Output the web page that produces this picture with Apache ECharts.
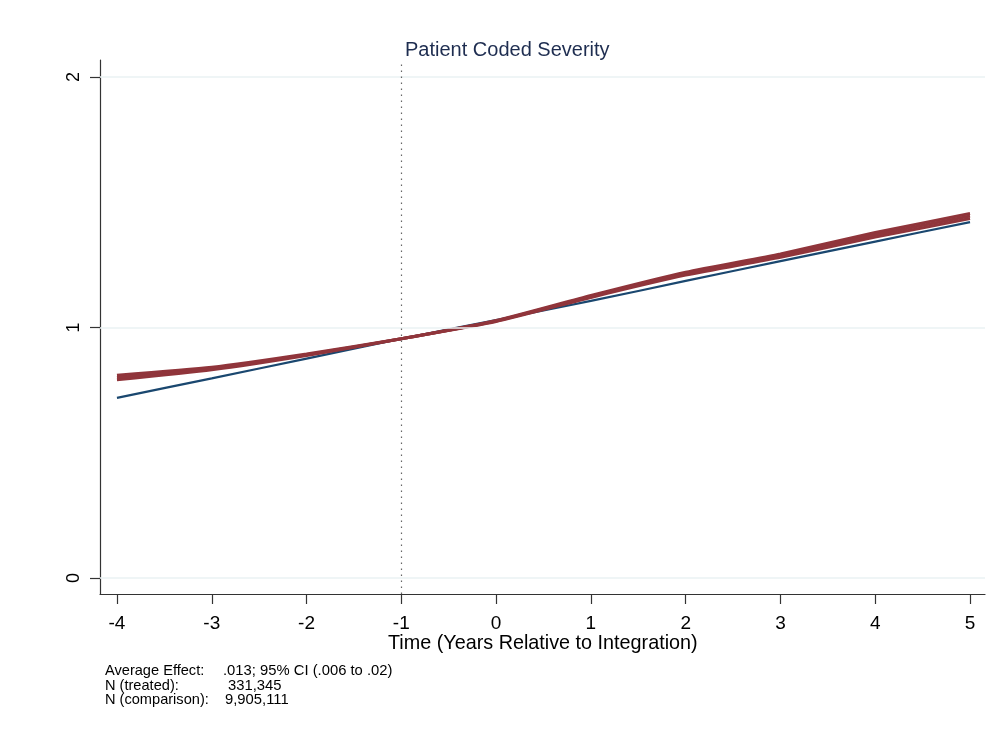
<!DOCTYPE html>
<html>
<head>
<meta charset="utf-8">
<script src="https://cdn.jsdelivr.net/npm/echarts@6/dist/echarts.min.js"></script>
<style>html,body{margin:0;padding:0;background:#fff;}#c{width:999px;height:734px;}</style>
</head>
<body>
<div id="c"></div>
<script>
const years = [-4, -3, -2, -1, 0, 1, 2, 3, 4, 5];
const comparison = [0.719, 0.797, 0.876, 0.955, 1.030, 1.106, 1.186, 1.265, 1.343, 1.421];
const treated = [0.800, 0.836, 0.891, 0.955, 1.026, 1.124, 1.215, 1.287, 1.370, 1.445];
const treatedLower = [0.791, 0.831, 0.888, 0.955, 1.024, 1.120, 1.209, 1.280, 1.361, 1.435];
const treatedUpper = [0.809, 0.841, 0.894, 0.955, 1.028, 1.128, 1.221, 1.294, 1.379, 1.455];
const xTicks = [-4, -3, -2, -1, 0, 1, 2, 3, 4, 5];
const yTicks = [0, 1, 2];
const xTitle = 'Time (Years Relative to Integration)';
const footLabels = ['Average Effect:', 'N (treated):', 'N (comparison):'];
const footValues = ['.013; 95% CI (.006 to .02)', '331,345', '9,905,111'];

const pair = arr => years.map((x, i) => [x, arr[i]]);
const font = 'Liberation Sans, Arial, sans-serif';
const red = '#90353b', blue = '#1a476f';

const chart = echarts.init(document.getElementById('c'));
const footX = [223, 228, 225];
const footY = [671, 686, 700];
const graphic = [];
graphic.push({type: 'text', left: 388, top: 634, style: {text: xTitle, font: '19.8px ' + font, fill: '#000'}});
footLabels.forEach((t, i) => {
  graphic.push({type: 'text', left: 105, top: footY[i] - 8, style: {text: t, font: '14.6px ' + font, fill: '#000'}});
  graphic.push({type: 'text', left: footX[i], top: footY[i] - 8, style: {text: footValues[i], font: '14.8px ' + font, fill: '#000'}});
});

chart.setOption({
  animation: false,
  backgroundColor: '#fff',
  title: {
    text: 'Patient Coded Severity', left: 400, top: 35,
    textStyle: {fontFamily: font, fontSize: 20, fontWeight: 'normal', color: '#1e2d50'}
  },
  grid: {left: 100, right: 14, top: 60, bottom: 140, containLabel: false},
  xAxis: {
    type: 'value', min: -4.179, max: 5.158,
    axisLine: {onZero: false, lineStyle: {color: '#333', width: 1.2}},
    axisTick: {show: true, length: 10, customValues: xTicks, lineStyle: {color: '#333', width: 1.2}},
    axisLabel: {customValues: xTicks, fontFamily: font, fontSize: 19, color: '#000', margin: 20},
    splitLine: {show: false}
  },
  yAxis: {
    type: 'value', min: -0.064, max: 2.068,
    axisLine: {show: true, onZero: false, lineStyle: {color: '#333', width: 1.2}},
    axisTick: {show: true, length: 10, customValues: yTicks, lineStyle: {color: '#333', width: 1.2}},
    axisLabel: {customValues: yTicks, rotate: 90, fontFamily: font, fontSize: 18, color: '#000', margin: 17},
    splitLine: {show: false}
  },
  graphic: graphic,
  series: [
    {
      type: 'line', data: [], silent: true,
      markLine: {
        silent: true, symbol: 'none', label: {show: false},
        lineStyle: {color: '#eaf2f3', width: 1.5, type: 'solid'},
        data: yTicks.map(v => ({yAxis: v}))
      }
    },
    {
      type: 'line', data: [], silent: true,
      markLine: {
        silent: true, symbol: 'none', label: {show: false},
        lineStyle: {color: '#666', width: 1.2, type: [1.5, 4.5]},
        data: [{xAxis: -1}]
      }
    },
    {type: 'line', name: 'comparison', data: pair(comparison), showSymbol: false, smooth: 0.2, lineStyle: {color: blue, width: 2.2}},
    {type: 'line', name: 'lower', data: pair(treatedLower), showSymbol: false, smooth: 0.2, lineStyle: {color: red, width: 3}},
    {type: 'line', name: 'upper', data: pair(treatedUpper), showSymbol: false, smooth: 0.2, lineStyle: {color: red, width: 3}},
    {type: 'line', name: 'treated', data: pair(treated), showSymbol: false, smooth: 0.2, lineStyle: {color: red, width: 3}}
  ]
});
</script>
</body>
</html>
